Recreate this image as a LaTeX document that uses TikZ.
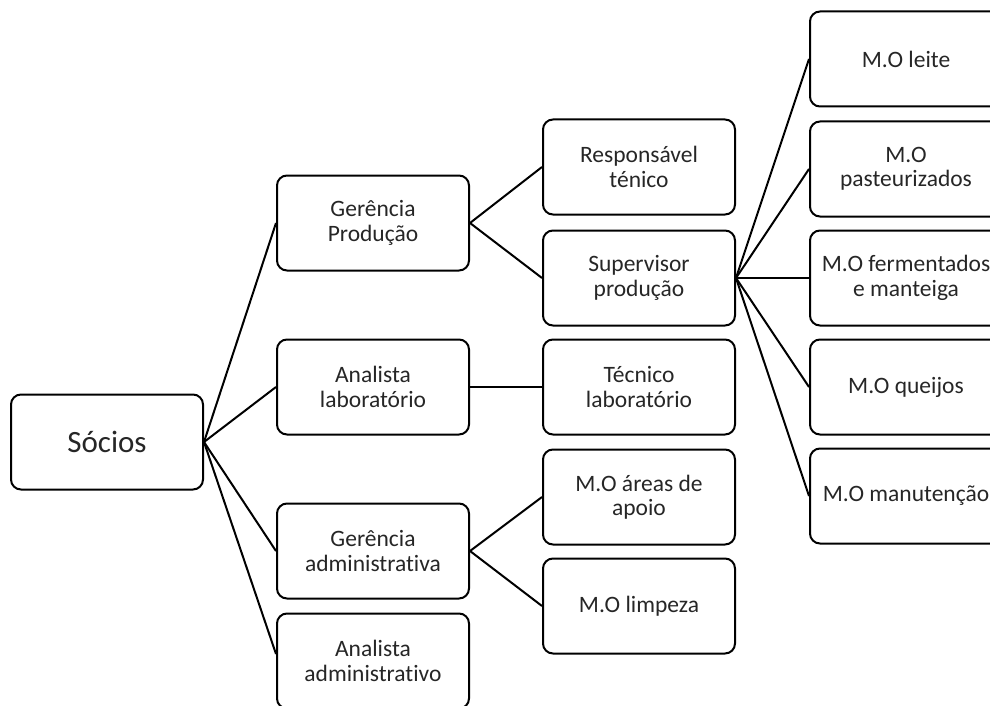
\documentclass[tikz,border=0pt]{standalone}
\usepackage{fontspec}
\setmainfont{Carlito}[Ligatures=NoCommon]
\begin{document}
\begin{tikzpicture}[x=1pt,y=-1pt,
  box/.style={draw=black, line width=2pt, rounded corners=10pt,
    minimum width=192pt, minimum height=95pt, inner sep=0pt,
    align=center, font=\fontsize{23.5}{24.5}\selectfont, text=black!85},
  bigbox/.style={box, font=\fontsize{31}{34}\selectfont},
  link/.style={draw=black, line width=2pt}]
\useasboundingbox (0,0) rectangle (990,706);
% root
\node[bigbox] (socios) at (107,442) {Sócios};
% first level
\node[box] (gp) at (373,223) {Gerência\\Produção};
\node[box] (al) at (373,387) {Analista\\laboratório};
\node[box] (ga) at (373,551) {Gerência\\administrativa};
\node[box] (aa) at (373,661) {Analista\\administrativo};
% second level
\node[box] (rt) at (639,167) {Responsável\\ténico};
\node[box] (sp) at (639,278) {Supervisor\\produção};
\node[box] (tl) at (639,387) {Técnico\\laboratório};
\node[box] (ma) at (639,497) {M.O áreas de\\apoio};
\node[box] (ml) at (639,606) {M.O limpeza};
% production staff
\node[box] (leite) at (906,59) {M.O leite};
\node[box] (past) at (906,169) {M.O\\pasteurizados};
\node[box] (ferm) at (906,278) {M.O fermentados\\e manteiga};
\node[box] (quei) at (906,387) {M.O queijos};
\node[box] (manu) at (906,496) {M.O manutenção};
% connectors
\foreach \c in {gp,al,ga} \draw[link] (socios.east) -- (\c.west);
\draw[link] (socios.east) -- ([yshift=7pt]aa.west);
\foreach \c in {rt,sp} \draw[link] (gp.east) -- (\c.west);
\draw[link] (al.east) -- (tl.west);
\foreach \c in {ma,ml} \draw[link] (ga.east) -- (\c.west);
\foreach \c in {leite,past,ferm,quei,manu} \draw[link] (sp.east) -- (\c.west);
\end{tikzpicture}
\end{document}
